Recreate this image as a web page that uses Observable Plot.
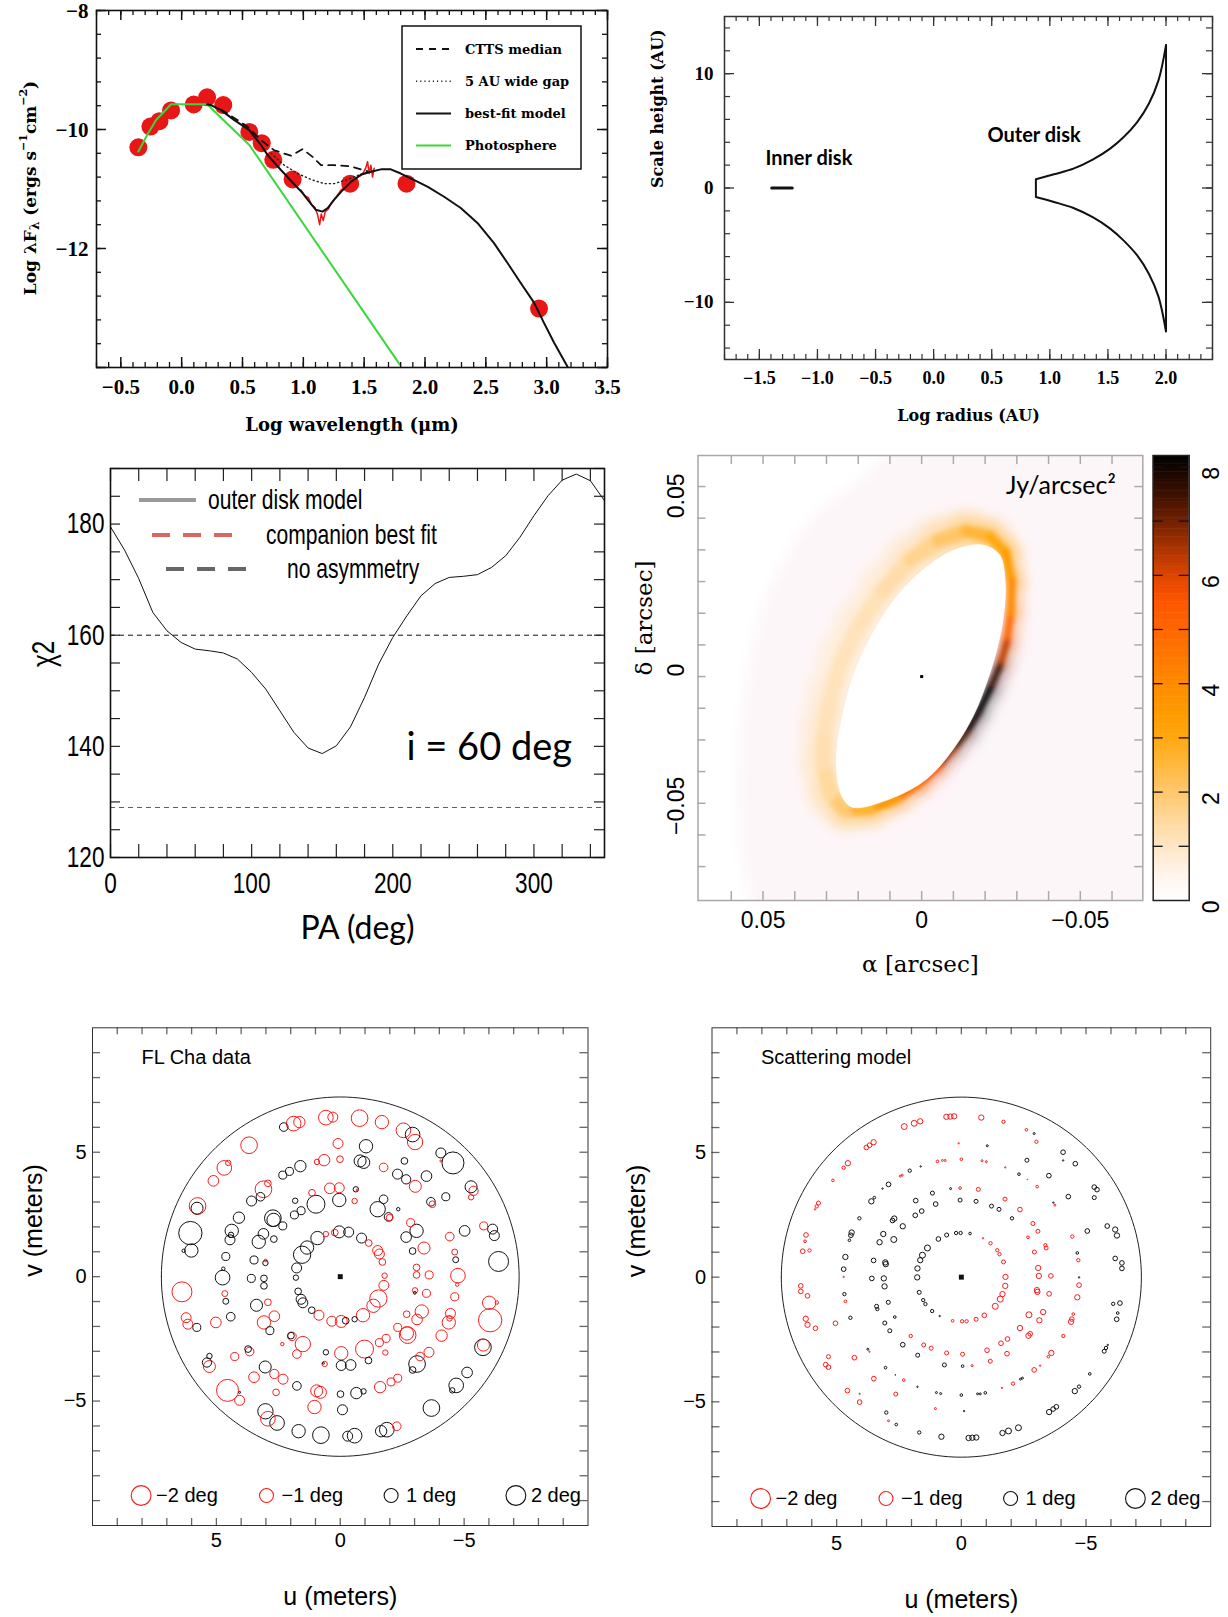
<!DOCTYPE html>
<html>
<head>
<meta charset="utf-8">
<script src="https://cdn.jsdelivr.net/npm/d3@7"></script>
<script src="https://cdn.jsdelivr.net/npm/@observablehq/plot@0.6"></script>
<style>
  body { margin: 0; background: #fff; }
  #fig { position: relative; width: 1228px; height: 1617px; overflow: hidden; background: #fff; }
  .panel { position: absolute; }
  .panel svg { overflow: visible; }
</style>
</head>
<body>
<div id="fig"></div>
<script>
// ---------------- (a) spectral energy distribution ----------------
const sedLogLam  = [-0.356, -0.257, -0.183, -0.087, 0.099, 0.209, 0.342, 0.556, 0.658, 0.753, 0.912, 1.385, 1.848, 2.937];
const sedLogFlux = [-10.30, -9.95, -9.86, -9.68, -9.58, -9.46, -9.59, -10.04, -10.23, -10.51, -10.84, -10.91, -10.91, -13.01];
const photoLogLam  = [-0.356, -0.278, -0.21, -0.087, 0.209, 0.556, 1.796];
const photoLogFlux = [-10.37, -10.07, -9.84, -9.575, -9.575, -10.26, -13.96];
const modelLogLam  = [0.209, 0.241, 0.323, 0.433, 0.556, 0.652, 0.707, 0.816, 0.912, 0.994, 1.035, 1.103, 1.158, 1.2, 1.254, 1.323, 1.391, 1.473, 1.555, 1.637, 1.719, 1.801, 1.883, 2.02, 2.157, 2.294, 2.431, 2.567, 2.677, 2.787, 2.896, 2.978, 3.06, 3.175];
const modelLogFlux = [-9.575, -9.591, -9.675, -9.843, -10.01, -10.26, -10.43, -10.68, -10.89, -11.07, -11.18, -11.35, -11.38, -11.32, -11.18, -11.02, -10.88, -10.76, -10.71, -10.67, -10.67, -10.74, -10.82, -10.96, -11.13, -11.32, -11.57, -11.91, -12.24, -12.58, -12.91, -13.25, -13.58, -14.0];
const cttsLogLam  = [0.323, 0.543, 0.652, 0.761, 0.898, 0.994, 1.076, 1.145, 1.254, 1.391, 1.541];
const cttsLogFlux = [-9.664, -9.955, -10.18, -10.35, -10.44, -10.33, -10.46, -10.60, -10.60, -10.62, -10.71];
const gapLogLam  = [0.734, 0.843, 0.953, 1.062, 1.172, 1.254, 1.364, 1.473, 1.541];
const gapLogFlux = [-10.40, -10.60, -10.74, -10.84, -10.91, -10.91, -10.84, -10.75, -10.71];
const irsLogLam  = [0.980, 1.013, 1.04, 1.068, 1.095, 1.117, 1.134, 1.147, 1.164, 1.18, 1.205, 1.232, 1.268, 1.309, 1.35, 1.391, 1.432, 1.468, 1.495, 1.514, 1.528, 1.541, 1.555, 1.569, 1.582];
const irsLogFlux = [-11.015, -11.116, -11.14, -11.27, -11.31, -11.43, -11.60, -11.42, -11.53, -11.38, -11.34, -11.23, -11.14, -11.02, -10.96, -10.88, -10.82, -10.78, -10.72, -10.64, -10.54, -10.74, -10.60, -10.80, -10.65];
const sedXTicks = [-0.5, 0, 0.5, 1, 1.5, 2, 2.5, 3, 3.5];
const sedYTicks = [-8, -10, -12];
const sedLegend = ["CTTS median", "5 AU wide gap", "best-fit model", "Photosphere"];

// ---------------- (b) disk structure ----------------
const innerDiskLogR = [-1.394, -1.217];
const innerDiskH    = [0, 0];
const outerLogR   = [0.88, 1.036, 1.203, 1.369, 1.519, 1.636, 1.752, 1.852, 1.935, 2.0];
const outerUpperH = [0.76, 1.20, 1.69, 2.48, 3.44, 4.46, 5.77, 7.37, 9.41, 12.5];
const outerLowerH = [-0.79, -1.22, -1.75, -2.55, -3.55, -4.6, -5.9, -7.5, -9.5, -12.55];
const diskXTicks = [-1.5, -1, -0.5, 0, 0.5, 1, 1.5, 2];
const diskYTicks = [10, 0, -10];

// ---------------- (c) chi-square versus position angle ----------------
const paDeg = [0, 10, 20, 30, 40, 50, 60, 70, 80, 90, 100, 110, 120, 130, 140, 150, 160, 170, 180, 190, 200, 210, 220, 230, 240, 250, 260, 270, 280, 290, 300, 310, 320, 330, 340, 350];
const chi2  = [179.5, 175.3, 170.2, 164.1, 160.8, 158.7, 157.5, 157.2, 156.8, 155.7, 153.3, 150.3, 146.4, 142.5, 139.7, 138.7, 140.1, 143.5, 148.8, 154.8, 159.6, 163.5, 167.1, 169.3, 170.4, 170.6, 170.9, 172.2, 174.3, 177.6, 181.5, 185.1, 187.9, 189.0, 187.8, 184.2];
const chi2NoAsymmetry = 160;
const chi2Companion = 129;
const chiXTicks = [0, 100, 200, 300];
const chiYTicks = [120, 140, 160, 180];
const chiLegend = ["outer disk model", "companion best fit", "no asymmetry"];

// ---------------- (d) model image ----------------
// ring ridge: offset alpha, delta (arcsec), surface brightness (Jy/arcsec^2), band width (px)
const ringAlpha = [-0.0281, -0.0268, -0.0247, -0.0216, -0.0179, -0.0142, -0.0100, -0.0052, 0.0005, 0.0079, 0.0163, 0.0241, 0.0288, 0.0311, 0.0306, 0.0286, 0.0249, 0.0194, 0.0119, 0.0034, -0.0054, -0.0141, -0.0216, -0.0265, -0.0284];
const ringDelta = [0.0203, 0.0108, 0.0035, -0.0039, -0.0113, -0.0176, -0.0228, -0.0286, -0.0339, -0.0386, -0.0420, -0.0424, -0.0368, -0.0273, -0.0165, -0.0058, 0.0061, 0.0168, 0.0275, 0.0371, 0.0430, 0.0459, 0.0441, 0.0390, 0.0300];
const ringFlux  = [4.4, 5.6, 6.9, 8.2, 8.2, 7.8, 7.0, 6.2, 5.2, 4.1, 3.0, 2.3, 1.6, 1.3, 1.15, 1.1, 1.1, 1.1, 1.2, 1.4, 1.8, 2.3, 2.8, 3.2, 3.7];
const ringWidth = [7, 7, 6, 6, 6, 6, 6, 6, 7, 8, 10, 12, 15, 16, 16, 16, 16, 16, 16, 16, 15, 13, 11, 9, 8];
// inner (cleared) edge of the ring
const holeAlpha = [-0.0205, -0.0247, -0.0263, -0.0258, -0.0237, -0.0205, -0.0163, -0.0100, -0.0016, 0.0100, 0.0216, 0.0247, 0.0268, 0.0263, 0.0242, 0.0211, 0.0163, 0.0100, 0.0016, -0.0079, -0.0152];
const holeDelta = [0.0412, 0.0382, 0.0298, 0.0193, 0.0087, -0.0018, -0.0123, -0.0228, -0.0323, -0.0386, -0.0413, -0.0386, -0.0302, -0.0197, -0.0092, 0.0014, 0.0119, 0.0224, 0.0319, 0.0388, 0.0414];
// edge of the faint outer halo (left side of the field)
const haloAlpha = [0.0132, 0.0353, 0.0495, 0.0558, 0.0580, 0.0567, 0.0542, 0.0542, 0.09, 0.09, 0.0132];
const haloDelta = [0.0698, 0.0493, 0.0240, -0.0044, -0.0328, -0.0581, -0.0707, -0.09, -0.09, 0.09, 0.09];
const imgTicks = [0.05, 0, -0.05];
const cbarTicks = [0, 2, 4, 6, 8];
const cmapValues = [0, 0.5, 1, 1.5, 2, 2.5, 3, 3.5, 4, 4.5, 5, 5.5, 6, 6.5, 7, 7.5, 8.2];
const cmapColors = ["#ffffff", "#fff4ea", "#ffe6c4", "#ffd79a", "#ffc76c", "#ffb83c", "#ffa70f", "#ff9900", "#ff8a00", "#ff7700", "#ff6600", "#ff5500", "#dd4400", "#a83300", "#702000", "#3a1000", "#000000"];

// ---------------- (e,f) closure-phase signals on the uv plane (upper half; lower half is point-reflected) ----------------
const dataU = [2.28, 1.88, 1.65, 0.58, 0.30, -0.78, -1.68, -2.55, -2.92, -3.02, -4.06, -4.06, -4.55, -3.48, -5.28, -5.38, -5.28, 3.68, 4.68, 4.52, 5.12, 5.76, 5.78, 6.05, 6.01, 6.32, -6.15, -6.22, -5.79, -6.39, -5.02, -4.42, -4.62, -4.66, -4.75, -3.38, -2.92, -3.08, -3.59, -3.08,
  0.09, -1.04, -0.80, -0.95, -1.75, 0.01, 0.65, 0.94, 1.61, 2.05, 2.32, -2.59, -2.31, -2.66, -3.03, -4.26, -3.66, -3.72, -2.34, -1.95, -1.99, -2.84, -3.08, -2.66, -0.63, -0.58, -0.68, 0.42, 0.04, 0.04,
  1.14, 0.98, 1.82, 1.58, 1.85, 3.10, 2.92, 3.58, 3.22, 4.09, 4.38, 4.41, 4.45, 4.62, 4.72, 2.69, 2.72, 2.32, 3.10, 3.29, 2.68, 3.48, 3.02, 3.01, -1.51, -1.75,
  0.92, 1.34, 1.54, 1.76, 0.58, 0.22, 0.04, -0.34, -0.86, -1.15, -1.51, -1.58, -1.70, -1.79];
const dataV = [6.01, 6.15, 6.21, 6.39, 6.41, 6.37, 6.21, 5.88, 5.71, 5.41, 4.97, 4.65, 4.57, 4.04, 3.61, 3.45, 3.19, 5.28, 4.37, 4.57, 3.85, 2.84, 2.75, 1.75, 1.05, 1.04, 1.91, 1.65, 2.04, 0.61, 1.84, 1.61, 0.99, 0.68, 0.04, 1.15, 1.03, 0.37, 0.07, 0.07,
  5.35, 5.24, 4.65, 4.59, 4.39, 4.72, 4.68, 4.61, 4.44, 4.23, 4.08, 4.65, 4.12, 3.91, 3.63, 3.21, 3.01, 2.91, 2.71, 2.40, 2.37, 2.17, 1.84, 1.59, 3.51, 3.04, 3.48, 3.55, 3.57, 3.08,
  3.37, 2.91, 3.05, 2.65, 2.48, 3.51, 3.75, 3.04, 3.21, 2.37, 1.84, 1.68, 1.48, 0.81, 0.32, 2.28, 2.35, 2.04, 1.72, 1.40, 1.51, 0.67, 0.55, 0.65, 2.71, 3.11,
  1.55, 1.17, 0.88, 0.35, 1.71, 1.77, 1.80, 1.79, 1.55, 1.35, 1.05, 0.91, 0.59, 0.04];
const dataPhase = [0.38, -1.10, -0.66, -1.10, -0.51, -1.42, -0.91, -1.10, 1.10, -1.20, 0.51, -0.02, 2.47, 0.58, 0.74, -0.44, -0.15, -1.42, -1.10, -0.15, -0.58, -1.42, 0.74, 2.78, 0.91, 0.06, 0.51, 0.51, -0.33, 2.04, 0.58, -0.38, -0.18, 0.18, -1.10, -0.74, 0.23, -0.23, -0.33, -0.23,
  -0.51, 0.91, 0.74, 0.74, -0.38, -0.23, -0.66, -0.15, 0.66, 0.33, 0.33, 0.23, 0.51, 0.44, -0.74, 0.33, 0.38, -0.23, 0.06, 0.38, -0.23, -0.33, 0.91, 0.58, 0.15, -0.15, -0.02, -0.58, -0.51, 0.91,
  -0.23, 1.65, 0.15, 0.33, 0.33, -1.42, -0.23, 0.51, 0.38, 0.66, 0.91, 0.15, 0.51, 0.33, 0.06, 0.91, 1.42, 0.33, 0.58, 0.91, 0.23, 0.33, 0.15, -0.04, 1.20, 0.38,
  0.91, 0.91, 1.53, 0.51, -0.15, -0.23, 0.74, 0.51, 0.51, -0.23, -0.51, -0.51, -0.23, -0.15];

const modelU = [2.29, 1.89, 1.65, 0.60, 0.44, 0.29, -0.80, -1.69, -2.61, -2.92, -3.01, -4.08, -4.08, -4.57, -3.51, -5.33, -5.44, -5.33, 3.81, 3.68, 3.52, 4.72, 4.55, 5.15, 5.73, 5.80, 5.87, 6.23, 6.27, 6.36, 6.09, 4.72, -5.85, -6.17, -6.24, -6.17, -6.44, -6.44, -5.05,
  0.11, -1.04, 0.96, 0.76, 0.65, 0.00, -0.83, -1.00, -1.76, -2.63, -2.31, -2.65, -3.04, -3.69, -3.75, -4.29, 2.07, 1.63, 2.37, 2.45, 3.16, 2.92, 3.49, 3.61, 4.09, 4.40, 4.43, 4.49, 4.65, 4.72,
  0.43, 0.05, -0.68, 1.16, 1.83, 1.03, 0.05, -0.59, -1.21, -1.51, -2.03, -1.75, -2.35, -2.87, -3.07, -2.67, -4.45, -4.65, -4.69, 1.85, 1.59, 2.69, 2.76, 2.35, 3.13, 3.28, 2.71, 3.52, 3.05, 3.03,
  0.92, 0.59, 0.21, 0.03, -0.35, -0.87, -1.17, -1.44, -1.53, -1.69, -1.77, 1.36, 1.56, 1.65, 1.76,
  -2.93, -3.37, -3.40, -3.08, -3.11, -3.59];
const modelV = [6.04, 6.17, 6.25, 6.43, 6.44, 6.45, 6.40, 6.23, 5.91, 5.76, 5.43, 5.01, 4.68, 4.55, 4.07, 3.61, 3.51, 3.19, 5.20, 5.29, 5.41, 4.39, 4.57, 3.88, 2.97, 2.84, 2.72, 1.69, 1.44, 1.04, 1.07, 0.01, 2.05, 1.91, 1.67, 0.75, 0.57, 0.35, 1.85,
  5.37, 5.27, 4.64, 4.68, 4.68, 4.73, 4.67, 4.63, 4.40, 4.69, 4.13, 3.92, 3.63, 2.99, 2.89, 3.23, 4.27, 4.44, 4.09, 4.05, 3.55, 3.72, 3.19, 3.04, 2.36, 1.79, 1.68, 1.48, 0.81, 0.32,
  3.55, 3.57, 3.52, 3.37, 3.07, 2.93, 3.09, 3.04, 2.85, 2.72, 2.36, 3.13, 2.71, 2.15, 1.84, 1.60, 1.63, 0.97, 0.68, 2.48, 2.65, 2.35, 2.27, 2.04, 1.73, 1.40, 1.51, 0.67, 0.59, 0.52,
  1.53, 1.69, 1.77, 1.77, 1.75, 1.56, 1.36, 1.08, 0.92, 0.61, 0.01, 1.17, 0.88, 0.68, 0.35,
  1.01, 1.28, 1.17, 0.37, 0.05, 0.05];
const modelPhase = [-0.18, -0.18, -0.145, -0.145, -0.145, -0.145, -0.145, -0.057, -0.036, 0.02, -0.057, 0.111, 0.01, 0.111, 0.111, 0.111, 0.111, 0.082, -0.111, -0.111, -0.145, -0.057, -0.145, -0.036, -0.082, -0.057, -0.01, -0.111, -0.036, -0.111, -0.057, -0.01, 0.111, 0.145, 0.145, 0.111, 0.111, 0.111, 0.111,
  -0.01, 0.02, -0.036, -0.02, -0.02, -0.036, -0.02, -0.02, -0.01, 0.082, 0.036, -0.003, -0.036, 0.01, -0.02, 0.111, 0.057, 0.01, -0.02, -0.02, 0.01, 0.111, 0.036, 0.145, 0.057, 0.145, 0.111, 0.036, 0.145, 0.111,
  0.02, -0.036, -0.082, 0.082, 0.111, 0.111, 0.082, 0.082, 0.082, 0.082, 0.057, -0.082, -0.111, -0.082, -0.082, -0.036, -0.057, 0.036, -0.057, 0.111, 0.111, 0.145, 0.111, 0.145, 0.145, 0.145, 0.184, 0.111, 0.145, 0.145,
  0.111, 0.082, 0.057, 0.057, 0.036, -0.01, -0.057, -0.057, -0.057, -0.082, -0.145, 0.184, 0.184, 0.145, 0.145,
  -0.082, -0.057, -0.082, -0.145, -0.145, -0.111];
const apertureRadius = 7.22;  // metres
const uvTicks = [5, 0, -5];
const uvLegendDeg = [-2, -1, 1, 2];

// ================= helpers =================
const fig = d3.select("#fig");
function mount(svg, left, top) {
  const div = fig.append("div").attr("class", "panel").style("left", left + "px").style("top", top + "px");
  div.node().appendChild(svg);
  return d3.select(svg);
}
const zip = (xs, ys) => xs.map((x, i) => ({x, y: ys[i]}));
const minus = s => s.replace("-", "\u2212");
// text mark, vertically centred on its anchor
const label = (data, o) => Plot.text(data, {lineAnchor: "middle", ...o});
// short tick marks drawn inward from both frame edges
function ticksX(values, len, frameH, o = {}) {
  return [
    Plot.tickX(values, {x: d => d, insetBottom: frameH - len, ...o}),
    Plot.tickX(values, {x: d => d, insetTop: frameH - len, ...o})
  ];
}
function ticksY(values, len, frameW, o = {}) {
  return [
    Plot.tickY(values, {y: d => d, insetRight: frameW - len, ...o}),
    Plot.tickY(values, {y: d => d, insetLeft: frameW - len, ...o})
  ];
}
function addBlur(sel, id, sd) {
  let defs = sel.select("defs");
  if (defs.empty()) defs = sel.insert("defs", ":first-child");
  defs.append("filter").attr("id", id)
    .attr("x", "-30%").attr("y", "-30%").attr("width", "160%").attr("height", "160%")
    .append("feGaussianBlur").attr("stdDeviation", sd);
}
// horizontally condense the glyphs of a text mark (narrow typeface look)
function condense(sel, desc, k) {
  sel.selectAll(`g[aria-description="${desc}"] text`).each(function () {
    const t = d3.select(this);
    let tr = t.attr("transform");
    if (!tr) {
      const x = +t.attr("x") || 0, y = +t.attr("y") || 0;
      t.attr("x", null).attr("y", null);
      tr = `translate(${x},${y})`;
    }
    t.attr("transform", `${tr} scale(${k},1)`);
  });
}

const RED = "#e81616", GREEN = "#38d838";
const SERIF = "Liberation Serif, serif";
const WSERIF = "DejaVu Serif, serif";
const SANS = "Liberation Sans, Arial, sans-serif";
const CAL = "Lato, Open Sans, sans-serif";

// ================= (a) SED =================
{
  const W = 614, H = 440, ml = 96, mr = 7, mt = 10, mb = 73;
  const fw = W - ml - mr, fh = H - mt - mb;
  const svg = Plot.plot({
    width: W, height: H, marginLeft: ml, marginRight: mr, marginTop: mt, marginBottom: mb,
    style: {background: "transparent"},
    x: {domain: [-0.7, 3.5], axis: null},
    y: {domain: [-14, -8], axis: null},
    marks: [
      Plot.dot(zip(sedLogLam, sedLogFlux), {x: "x", y: "y", r: 9, fill: RED}),
      Plot.line(zip(photoLogLam, photoLogFlux), {x: "x", y: "y", stroke: GREEN, strokeWidth: 2, clip: true}),
      Plot.line(zip(cttsLogLam, cttsLogFlux), {x: "x", y: "y", stroke: "#111", strokeWidth: 1.8, strokeDasharray: "7,6"}),
      Plot.line(zip(gapLogLam, gapLogFlux), {x: "x", y: "y", stroke: "#222", strokeWidth: 1.4, strokeDasharray: "1.2,3"}),
      Plot.line(zip(irsLogLam, irsLogFlux), {x: "x", y: "y", stroke: RED, strokeWidth: 1.5}),
      Plot.line(zip(modelLogLam, modelLogFlux), {x: "x", y: "y", stroke: "#111", strokeWidth: 2, clip: true}),
      ...ticksX(d3.range(-0.7, 3.51, 0.1), 5, fh, {stroke: "#111", strokeWidth: 1.3}),
      ...ticksX(sedXTicks, 10, fh, {stroke: "#111", strokeWidth: 1.5}),
      ...ticksY(d3.range(-14, -7.99, 0.4), 5, fw, {stroke: "#111", strokeWidth: 1.3}),
      ...ticksY([-8, -10, -12, -14], 10, fw, {stroke: "#111", strokeWidth: 1.5}),
      Plot.frame({stroke: "#111", strokeWidth: 1.6}),
      label(sedXTicks, {x: d => d, text: d => minus(d.toFixed(1)), frameAnchor: "bottom", dy: 20, fontFamily: SERIF, fontWeight: "bold", fontSize: 21}),
      label(sedYTicks, {y: d => d, text: d => minus(String(d)), frameAnchor: "left", dx: -8, dy: 1, textAnchor: "end", fontFamily: SERIF, fontWeight: "bold", fontSize: 21}),
      label(["Log wavelength (\u03bcm)"], {frameAnchor: "bottom", dy: 58, fontFamily: WSERIF, fontWeight: "bold", fontSize: 18})
    ]
  });
  const s = mount(svg, 0, 0);
  // y-axis title with sub/superscripts
  const t = s.append("text").attr("transform", "translate(30,188) rotate(-90)")
    .attr("text-anchor", "middle").attr("dominant-baseline", "central")
    .attr("font-family", WSERIF).attr("font-weight", "bold").attr("font-size", 17);
  t.append("tspan").text("Log \u03bbF");
  t.append("tspan").attr("font-size", 12).attr("dy", 5).text("\u03bb");
  t.append("tspan").attr("dy", -5).text(" (ergs s");
  t.append("tspan").attr("font-size", 11).attr("dy", -7).text("\u22121");
  t.append("tspan").attr("dy", 7).text("cm");
  t.append("tspan").attr("font-size", 11).attr("dy", -7).text("\u22122");
  t.append("tspan").attr("dy", 7).text(")");
  // legend box
  const g = s.append("g");
  g.append("rect").attr("x", 402).attr("y", 26).attr("width", 179).attr("height", 143)
    .attr("fill", "white").attr("stroke", "#111").attr("stroke-width", 1.5);
  const styles = [
    {stroke: "#111", dash: "7,6", w: 1.8},
    {stroke: "#222", dash: "1.2,3", w: 1.4},
    {stroke: "#111", dash: null, w: 2},
    {stroke: GREEN, dash: null, w: 2}
  ];
  sedLegend.forEach((name, i) => {
    const y = 49 + i * 32.2;
    g.append("line").attr("x1", 416).attr("x2", 451).attr("y1", y).attr("y2", y)
      .attr("stroke", styles[i].stroke).attr("stroke-width", styles[i].w)
      .attr("stroke-dasharray", styles[i].dash);
    g.append("text").attr("x", 465).attr("y", y).attr("text-anchor", "start").attr("dominant-baseline", "central")
      .attr("font-family", WSERIF).attr("font-weight", "bold").attr("font-size", 13).text(name);
  });
}

// ================= (b) disk structure =================
{
  const W = 614, H = 440, ml = 110, mr = 16, mt = 16, mb = 81;
  const fw = W - ml - mr, fh = H - mt - mb;
  const svg = Plot.plot({
    width: W, height: H, marginLeft: ml, marginRight: mr, marginTop: mt, marginBottom: mb,
    style: {background: "transparent"},
    x: {domain: [-1.8, 2.4], axis: null},
    y: {domain: [-15, 15], axis: null},
    marks: [
      Plot.line(zip(innerDiskLogR, innerDiskH), {x: "x", y: "y", stroke: "#111", strokeWidth: 3}),
      Plot.line(zip(outerLogR, outerUpperH), {x: "x", y: "y", stroke: "#111", strokeWidth: 2, curve: "catmull-rom"}),
      Plot.line(zip(outerLogR, outerLowerH), {x: "x", y: "y", stroke: "#111", strokeWidth: 2, curve: "catmull-rom"}),
      Plot.ruleX([0], {x: outerLogR[0], y1: outerLowerH[0], y2: outerUpperH[0], stroke: "#111", strokeWidth: 2}),
      Plot.ruleX([0], {x: outerLogR[outerLogR.length - 1], y1: outerLowerH[outerLowerH.length - 1], y2: outerUpperH[outerUpperH.length - 1], stroke: "#111", strokeWidth: 2}),
      ...ticksX(d3.range(-1.8, 2.41, 0.1), 5, fh, {stroke: "#333", strokeWidth: 1.2}),
      ...ticksX(d3.range(-1.5, 2.01, 0.5), 10, fh, {stroke: "#333", strokeWidth: 1.3}),
      ...ticksY(d3.range(-14, 15, 2), 6, fw, {stroke: "#333", strokeWidth: 1.2}),
      ...ticksY(diskYTicks, 10, fw, {stroke: "#333", strokeWidth: 1.3}),
      Plot.frame({stroke: "#333", strokeWidth: 1.5}),
      label(diskXTicks, {x: d => d, text: d => minus(d.toFixed(1)), frameAnchor: "bottom", dy: 19, fontFamily: SERIF, fontWeight: "bold", fontSize: 18}),
      label(diskYTicks, {y: d => d, text: d => minus(String(d)), frameAnchor: "left", dx: -11, textAnchor: "end", fontFamily: SERIF, fontWeight: "bold", fontSize: 19}),
      label(["Log radius (AU)"], {frameAnchor: "bottom", dy: 56, fontFamily: WSERIF, fontWeight: "bold", fontSize: 16}),
      label(["Scale height (AU)"], {frameAnchor: "left", dx: -67, rotate: -90, fontFamily: WSERIF, fontWeight: "bold", fontSize: 16}),
      label(["Inner disk"], {frameAnchor: "top-left", dx: 41, dy: 142, textAnchor: "start", fontFamily: CAL, fontWeight: "bold", fontSize: 20}),
      label(["Outer disk"], {frameAnchor: "top-left", dx: 263, dy: 119, textAnchor: "start", fontFamily: CAL, fontWeight: "bold", fontSize: 20})
    ]
  });
  mount(svg, 614, 0);
}

// ================= (c) chi-square vs PA =================
{
  const W = 614, H = 520, ml = 110, mr = 10, mt = 28, mb = 103;
  const fw = W - ml - mr, fh = H - mt - mb;
  const svg = Plot.plot({
    width: W, height: H, marginLeft: ml, marginRight: mr, marginTop: mt, marginBottom: mb,
    style: {background: "transparent"},
    x: {domain: [0, 350], axis: null},
    y: {domain: [120, 190], axis: null},
    marks: [
      Plot.ruleY([chi2NoAsymmetry], {stroke: "#111", strokeWidth: 1, strokeDasharray: "5,4"}),
      Plot.ruleY([chi2Companion], {stroke: "#ff1a1a", strokeWidth: 1, strokeDasharray: "5,4"}),
      Plot.line(zip(paDeg, chi2), {x: "x", y: "y", stroke: "#111", strokeWidth: 1}),
      ...ticksX(d3.range(0, 341, 20), 13, fh, {stroke: "#222", strokeWidth: 1.2}),
      ...ticksY(d3.range(120, 191, 5), 10, fw, {stroke: "#222", strokeWidth: 1.2}),
      Plot.frame({stroke: "#111", strokeWidth: 1.6}),
      label(chiXTicks, {x: d => d, text: d => String(d), frameAnchor: "bottom", dy: 26, fontFamily: SANS, fontSize: 29, ariaDescription: "narrow"}),
      label(chiYTicks, {y: d => d, text: d => String(d), frameAnchor: "left", dx: -6, textAnchor: "end", fontFamily: SANS, fontSize: 29, ariaDescription: "narrow"}),
      label(["PA (deg)"], {frameAnchor: "bottom", dy: 71, fontFamily: CAL, fontSize: 32}),
      label(["\u03c72"], {frameAnchor: "left", dx: -66, dy: 4, rotate: -90, fontFamily: SANS, fontSize: 31, ariaDescription: "narrow"}),
      label(["i = 60 deg"], {frameAnchor: "top-left", dx: 296, dy: 279, textAnchor: "start", fontFamily: CAL, fontSize: 38})
    ]
  });
  const s = mount(svg, 0, 440);
  condense(s, "narrow", 0.78);
  const g = s.append("g");
  const items = [
    {x1: 139, x2: 196, tx: 208, y: 60, stroke: "#9a9a9a", dash: null},
    {x1: 152, x2: 234, tx: 266, y: 95, stroke: "#d9665f", dash: "18,13"},
    {x1: 166, x2: 247, tx: 287, y: 129, stroke: "#666666", dash: "18,13"}
  ];
  chiLegend.forEach((name, i) => {
    const it = items[i];
    g.append("line").attr("x1", it.x1).attr("x2", it.x2).attr("y1", it.y).attr("y2", it.y)
      .attr("stroke", it.stroke).attr("stroke-width", 4).attr("stroke-dasharray", it.dash);
    g.append("text").attr("transform", `translate(${it.tx},${it.y}) scale(0.78,1)`)
      .attr("text-anchor", "start").attr("dominant-baseline", "central")
      .attr("font-family", SANS).attr("font-size", 27).text(name);
  });
}

// ================= (d) model image =================
{
  const W = 614, H = 540, ml = 83.5, mr = 85.7, mt = 15, mb = 80;
  const fw = W - ml - mr, fh = H - mt - mb;
  const n = ringAlpha.length;
  const segs = ringAlpha.map((a, i) => {
    const j = (i + 1) % n;
    return {x1: a, y1: ringDelta[i], x2: ringAlpha[j], y2: ringDelta[j],
            f: (ringFlux[i] + ringFlux[j]) / 2, w: (ringWidth[i] + ringWidth[j]) / 2};
  });
  const svg = Plot.plot({
    width: W, height: H, marginLeft: ml, marginRight: mr, marginTop: mt, marginBottom: mb,
    style: {background: "transparent"},
    x: {domain: [0.0705, -0.0697], axis: null},
    y: {domain: [-0.0707, 0.0698], axis: null},
    color: {type: "linear", domain: cmapValues, range: cmapColors, clamp: true},
    marks: [
      Plot.frame({fill: "#fdf6f9", stroke: "none"}),
      Plot.line(zip(haloAlpha, haloDelta), {x: "x", y: "y", fill: "white", stroke: "none", curve: "catmull-rom-closed", clip: true, ariaDescription: "halo"}),
      Plot.link(segs, {x1: "x1", y1: "y1", x2: "x2", y2: "y2", stroke: "f", strokeWidth: d => d.w * 3, strokeOpacity: 0.3, strokeLinecap: "round", ariaDescription: "glow"}),
      Plot.link(segs, {x1: "x1", y1: "y1", x2: "x2", y2: "y2", stroke: "f", strokeWidth: "w", strokeLinecap: "round", ariaDescription: "ring"}),
      Plot.line(zip(holeAlpha, holeDelta), {x: "x", y: "y", fill: "white", stroke: "white", strokeWidth: 0.8, curve: "catmull-rom-closed", ariaDescription: "hole"}),
      Plot.dot([0], {x: () => 0, y: () => 0, symbol: "square", r: 1.7, fill: "black"}),
      ...ticksX(d3.range(-0.06, 0.0601, 0.01), 9, fh, {stroke: "#aaa", strokeWidth: 1.5}),
      ...ticksY(d3.range(-0.06, 0.0601, 0.01), 8, fw, {stroke: "#aaa", strokeWidth: 1.5}),
      Plot.frame({stroke: "#a8a8a8", strokeWidth: 1.5}),
      label(imgTicks, {x: d => d, text: d => minus(String(d)), frameAnchor: "bottom", dy: 20, fontFamily: SANS, fontSize: 23}),
      label(imgTicks, {y: d => d, text: d => minus(String(d)), frameAnchor: "left", dx: -21.5, rotate: -90, fontFamily: SANS, fontSize: 23}),
      label(["\u03b1 [arcsec]"], {frameAnchor: "bottom", dy: 64, fontFamily: WSERIF, fontSize: 23}),
      label(["\u03b4 [arcsec]"], {frameAnchor: "left", dx: -53.5, dy: -2.5, rotate: -90, fontFamily: WSERIF, fontSize: 23}),
      label(["Jy/arcsec\u00b2"], {frameAnchor: "top-right", dx: -27, dy: 30, textAnchor: "end", fontFamily: CAL, fontSize: 25})
    ]
  });
  const s = mount(svg, 614, 440);
  addBlur(s, "haloBlur", 6);
  addBlur(s, "glowBlur", 7);
  addBlur(s, "ringBlur", 2.8);
  addBlur(s, "holeBlur", 0.6);
  s.selectAll('g[aria-description="halo"]').attr("filter", "url(#haloBlur)");
  s.selectAll('g[aria-description="glow"]').attr("filter", "url(#glowBlur)");
  s.selectAll('g[aria-description="ring"]').attr("filter", "url(#ringBlur)");
  s.selectAll('g[aria-description="hole"]').attr("filter", "url(#holeBlur)");

  // colour bar
  const step = 0.05;
  const levels = d3.range(0, 8.21, step);
  const cb = Plot.plot({
    width: 88, height: 480, marginLeft: 12.7, marginRight: 39.3, marginTop: 15, marginBottom: 20,
    style: {background: "transparent"},
    x: {domain: [0, 1], axis: null},
    y: {domain: [0, 8.21], axis: null},
    color: {type: "linear", domain: cmapValues, range: cmapColors, clamp: true},
    marks: [
      Plot.rect(levels, {x1: 0, x2: 1, y1: d => d, y2: d => Math.min(d + step + 0.01, 8.21), fill: d => d + step / 2}),
      ...ticksY(d3.range(1, 9, 1), 10, 36, {stroke: "#111", strokeWidth: 1.3}),
      Plot.frame({stroke: "#222", strokeWidth: 1.5}),
      label(cbarTicks, {y: d => d, text: d => String(d), frameAnchor: "right", dx: 22, rotate: -90, fontFamily: SANS, fontSize: 23})
    ]
  });
  mount(cb, 1140, 440);
}

// ================= (e,f) uv-plane panels =================
function uvPanel({U, V, P, title, left, ml, mr, mb, legendDy, vDx, uDy, tickDy}) {
  const W = 614, H = 637, mt = 47.3;
  const fw = W - ml - mr, fh = H - mt - mb;
  const rows = U.map((u, i) => ({u, v: V[i], p: P[i]}));
  const mirrored = rows.map(d => ({u: -d.u, v: -d.v, p: -d.p}));
  const all = rows.concat(mirrored);
  const rim = d3.range(0, 361, 2).map(a => ({u: apertureRadius * Math.cos(a * Math.PI / 180), v: apertureRadius * Math.sin(a * Math.PI / 180)}));
  const legendDx = [48.6, 174, 298.6, 423.4];
  const marks = [
    Plot.line(rim, {x: "u", y: "v", stroke: "#222", strokeWidth: 1}),
    Plot.dot(all, {x: "u", y: "v", r: d => Math.abs(d.p), stroke: d => d.p < 0 ? "#ff1a1a" : "#111", fill: "none", strokeWidth: 1}),
    Plot.dot([0], {x: () => 0, y: () => 0, symbol: "square", r: 2.8, fill: "#111", stroke: "none"}),
    ...ticksX(d3.range(-9, 10, 1), 7, fh, {stroke: "#666", strokeWidth: 1.3}),
    ...ticksY(d3.range(-9, 10, 1), 8, fw, {stroke: "#666", strokeWidth: 1.3}),
    Plot.frame({stroke: "#333", strokeWidth: 1}),
    label(uvTicks, {x: d => d, text: d => minus(String(d)), frameAnchor: "bottom", dy: tickDy, fontFamily: SANS, fontSize: 20}),
    label(uvTicks, {y: d => d, text: d => minus(String(d)), frameAnchor: "left", dx: -6, textAnchor: "end", fontFamily: SANS, fontSize: 20}),
    label(["u (meters)"], {frameAnchor: "bottom", dy: uDy, fontFamily: SANS, fontSize: 25}),
    label(["v (meters)"], {frameAnchor: "left", dx: vDx, rotate: -90, fontFamily: SANS, fontSize: 25}),
    label([title], {frameAnchor: "top-left", dx: 49, dy: 29.4, textAnchor: "start", fontFamily: SANS, fontSize: 20})
  ];
  uvLegendDeg.forEach((deg, i) => {
    marks.push(Plot.dot([deg], {frameAnchor: "bottom-left", dx: legendDx[i], dy: legendDy, r: d => Math.abs(d), stroke: deg < 0 ? "#ff1a1a" : "#111", fill: "none", strokeWidth: 1.1}));
    marks.push(label([deg], {frameAnchor: "bottom-left", dx: legendDx[i] + 15, dy: legendDy, textAnchor: "start", text: d => minus(String(d)) + " deg", fontFamily: SANS, fontSize: 20}));
  });
  const svg = Plot.plot({
    width: W, height: H, marginLeft: ml, marginRight: mr, marginTop: mt, marginBottom: mb,
    style: {background: "transparent"},
    x: {domain: [10, -10], axis: null},
    y: {domain: [-10, 10], axis: null},
    r: {type: "sqrt", domain: [0, 1], range: [0, 7]},
    marks
  });
  mount(svg, left, 980);
}
uvPanel({U: dataU, V: dataV, P: dataPhase, title: "FL Cha data", left: 0, ml: 92, mr: 26.5, mb: 92, legendDy: -30, vDx: -59, uDy: 71, tickDy: 15});
uvPanel({U: modelU, V: modelV, P: modelPhase, title: "Scattering model", left: 614, ml: 97.5, mr: 17.8, mb: 91, legendDy: -28, vDx: -75.5, uDy: 73, tickDy: 17});
</script>
</body>
</html>
